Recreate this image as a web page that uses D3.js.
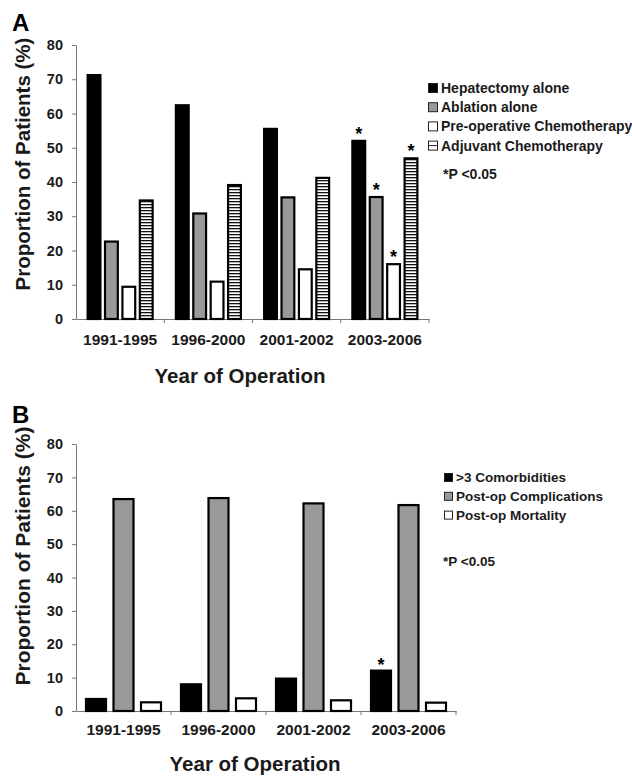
<!DOCTYPE html>
<html lang="en">

<head>
    <title></title>
    <meta charset="UTF-8">
    <script src="https://cdn.jsdelivr.net/npm/d3@7"></script>
    <style>
        body {
            margin: 0;
            background: #fff;
        }

        svg text {
            font-family: "Liberation Sans", Arial, sans-serif;
            font-weight: bold;
        }
    </style>
</head>

<body>
    <script>
        // categories and values
        var periods = ['1991-1995', '1996-2000', '2001-2002', '2003-2006'];
        var yTicks = [0, 10, 20, 30, 40, 50, 60, 70, 80];

        // panel A
        var namesA = ['Hepatectomy alone', 'Ablation alone', 'Pre-operative Chemotherapy', 'Adjuvant Chemotherapy'];
        var hepatectomy = [71.5, 62.7, 55.8, 52.3];
        var ablation = [22.9, 31.1, 35.8, 35.9];
        var preop = [9.7, 11.2, 14.8, 16.3];
        var adjuvant = [34.9, 39.4, 41.5, 47.2];
        var starsA = [0, 0, 0, 1]; // significance per period (all series)

        // panel B
        var namesB = ['>3 Comorbidities', 'Post-op Complications', 'Post-op Mortality'];
        var comorbid = [3.9, 8.3, 10.0, 12.4];
        var complications = [63.8, 64.1, 62.5, 62.0];
        var mortality = [2.9, 4.1, 3.5, 2.8];
        var starsB = [[0, 0, 0], [0, 0, 0], [0, 0, 0], [1, 0, 0]];

        var width = 632,
            height = 779;

        var svg = d3.select('body').append('svg')
            .attr('width', width)
            .attr('height', height);

        // horizontal stripe fill
        var pat = svg.append('defs').append('pattern')
            .attr('id', 'stripes')
            .attr('patternUnits', 'userSpaceOnUse')
            .attr('width', 4)
            .attr('height', 3);
        pat.append('rect').attr('width', 4).attr('height', 3).attr('fill', '#fff');
        pat.append('rect').attr('width', 4).attr('height', 1.3).attr('fill', '#111');

        var fillsA = ['#000', '#999', '#fff', 'url(#stripes)'];
        var fillsB = ['#000', '#999', '#fff'];

        function drawPanel(p) {
            var g = svg.append('g');

            var x = d3.scaleBand().domain(periods).range([p.x0, p.x1]);
            var inner = d3.scaleBand()
                .domain(d3.range(p.series.length))
                .range([0, p.groupW])
                .paddingInner(p.pad);
            var off = (x.bandwidth() - p.groupW) / 2;
            var y = d3.scaleLinear().domain([0, 80]).range([p.y0, p.y1]);

            // y axis
            var ya = g.append('g')
                .attr('transform', 'translate(' + p.x0 + ',0)')
                .call(d3.axisLeft(y).tickValues(yTicks).tickSize(4).tickPadding(9).tickSizeOuter(0));
            ya.select('.domain').attr('stroke', '#777');
            ya.selectAll('.tick line').attr('stroke', '#777');
            ya.selectAll('.tick text')
                .attr('font-size', 14.5)
                .attr('fill', '#1a1a1a');

            // x axis: labels centred in each band, ticks on band edges
            var xa = g.append('g')
                .attr('transform', 'translate(0,' + p.y0 + ')')
                .call(d3.axisBottom(x).tickSize(0).tickPadding(p.labPad).tickSizeOuter(0));
            xa.select('.domain').attr('stroke', '#777');
            xa.selectAll('.tick text')
                .attr('font-size', 15.5)
                .attr('fill', '#1a1a1a');
            xa.selectAll('line.edge')
                .data(periods)
                .enter()
                .append('line')
                .attr('class', 'edge')
                .attr('x1', function(d) { return x(d) + x.bandwidth(); })
                .attr('x2', function(d) { return x(d) + x.bandwidth(); })
                .attr('y1', 0)
                .attr('y2', 4)
                .attr('stroke', '#777');

            // bars
            p.series.forEach(function(vals, s) {
                var pts = vals.map(function(v, i) { return { v: v, i: i }; });
                var bx = function(d) { return x(periods[d.i]) + off + inner(s); };

                g.append('g')
                    .selectAll('rect')
                    .data(pts)
                    .enter()
                    .append('rect')
                    .attr('x', function(d) { return bx(d) + 1; })
                    .attr('width', inner.bandwidth() - 2)
                    .attr('y', function(d) { return y(d.v) + 1; })
                    .attr('height', function(d) { return y(0) - y(d.v) - 1; })
                    .attr('fill', p.fills[s])
                    .attr('stroke', '#000')
                    .attr('stroke-width', 2.2);

                // significance stars
                g.append('g')
                    .selectAll('text')
                    .data(pts.filter(function(d) { return p.stars[d.i][s]; }))
                    .enter()
                    .append('text')
                    .attr('x', function(d) { return bx(d) + inner.bandwidth() / 2; })
                    .attr('y', function(d) { return y(d.v) + p.starDy; })
                    .attr('text-anchor', 'middle')
                    .attr('font-size', 18)
                    .text('*');
            });

            // axis titles
            g.append('text')
                .attr('transform', 'translate(30,' + p.yTitleY + ') rotate(-90)')
                .attr('text-anchor', 'middle')
                .attr('font-size', p.yTitleSize)
                .attr('fill', '#1a1a1a')
                .text('Proportion of Patients (%)');
            g.append('text')
                .attr('x', p.xTitleX)
                .attr('y', p.xTitleY)
                .attr('text-anchor', 'middle')
                .attr('font-size', 20.5)
                .attr('fill', '#1a1a1a')
                .text('Year of Operation');

            // panel letter
            g.append('text')
                .attr('x', 12)
                .attr('y', p.letterY)
                .attr('font-size', 24)
                .text(p.letter);

            // legend
            var lg = g.append('g');
            p.names.forEach(function(n, s) {
                var yy = p.legY + s * p.legStep;
                lg.append('rect')
                    .attr('x', p.legX + 0.5)
                    .attr('y', yy - p.sw + 0.5)
                    .attr('width', p.sw - 1)
                    .attr('height', p.sw - 1)
                    .attr('fill', p.fills[s] === 'url(#stripes)' ? '#fff' : p.fills[s])
                    .attr('stroke', '#222')
                    .attr('stroke-width', 1);
                if (p.fills[s] === 'url(#stripes)') {
                    lg.append('line')
                        .attr('x1', p.legX + 1)
                        .attr('x2', p.legX + p.sw - 1)
                        .attr('y1', yy - p.sw / 2)
                        .attr('y2', yy - p.sw / 2)
                        .attr('stroke', '#222');
                }
                lg.append('text')
                    .attr('x', p.legX + p.sw + 3)
                    .attr('y', yy)
                    .attr('font-size', p.legSize)
                    .attr('fill', '#1a1a1a')
                    .text(n);
            });
            lg.append('text')
                .attr('x', 443)
                .attr('y', p.pY)
                .attr('font-size', p.legSize)
                .attr('fill', '#1a1a1a')
                .text('*P <0.05');
        }

        drawPanel({
            letter: 'A', letterY: 31,
            x0: 76, x1: 429, y0: 319, y1: 45,
            groupW: 67, pad: 0.15,
            series: [hepatectomy, ablation, preop, adjuvant],
            names: namesA, fills: fillsA,
            stars: starsA.map(function(f) { return [f, f, f, f]; }),
            starDy: 0, labPad: 15,
            yTitleY: 164, yTitleSize: 20.5,
            xTitleX: 240, xTitleY: 383,
            legX: 428, legY: 93, legStep: 19.2, sw: 10, legSize: 14,
            pY: 179
        });

        drawPanel({
            letter: 'B', letterY: 423,
            x0: 76, x1: 456, y0: 711, y1: 444,
            groupW: 77, pad: 0.2,
            series: [comorbid, complications, mortality],
            names: namesB, fills: fillsB,
            stars: starsB,
            starDy: 1, labPad: 13,
            yTitleY: 556, yTitleSize: 21,
            xTitleX: 255, xTitleY: 771,
            legX: 444, legY: 482, legStep: 18.8, sw: 9, legSize: 13.5,
            pY: 566
        });
    </script>
</body>

</html>
